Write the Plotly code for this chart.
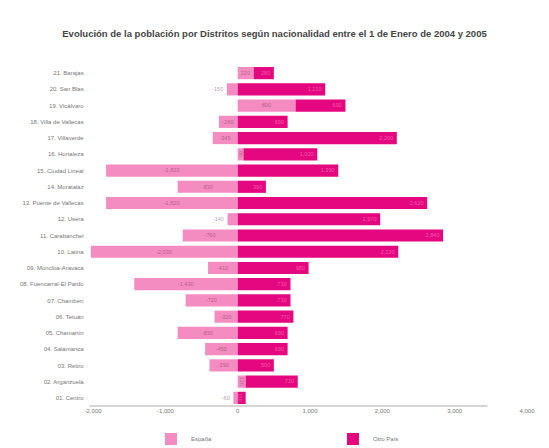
import plotly.graph_objects as go

# Madrid districts, drawn bottom (01) to top (21)
distritos = [
    "01. Centro", "02. Arganzuela", "03. Retiro", "04. Salamanca", "05. Chamartín",
    "06. Tetuán", "07. Chamberí", "08. Fuencarral-El Pardo", "09. Moncloa-Aravaca",
    "10. Latina", "11. Carabanchel", "12. Usera", "13. Puente de Vallecas",
    "14. Moratalaz", "15. Ciudad Lineal", "16. Hortaleza", "17. Villaverde",
    "18. Villa de Vallecas", "19. Vicálvaro", "20. San Blas", "21. Barajas",
]

# Change in population between 1 Jan 2004 and 1 Jan 2005
espana = [-60, 110, -390, -450, -830, -320, -720, -1430, -410, -2030, -760, -140,
          -1820, -830, -1820, 80, -345, -260, 800, -150, 220]
otro_pais = [110, 720, 500, 690, 690, 770, 730, 730, 980, 2220, 2840, 1970,
             2620, 390, 1390, 1020, 2200, 690, 690, 1210, 280]

tick_vals = [-2000, -1000, 0, 1000, 2000, 3000, 4000]
tick_text = ["-2,000", "-1,000", "0", "1,000", "2,000", "3,000", "4,000"]

color_es = "#F48BC1"
color_ot = "#E4077F"


def fmt(v):
    return f"{v:,}"


fig = go.Figure()
fig.add_trace(go.Bar(
    y=distritos, x=espana, name="España", orientation="h",
    marker=dict(color=color_es, line=dict(width=0)),
    text=[fmt(v) for v in espana], textposition="auto",
    textfont=dict(size=6, color="rgba(120,60,90,0.55)"),
    insidetextanchor="middle",
))
fig.add_trace(go.Bar(
    y=distritos, x=otro_pais, name="Otro País", orientation="h",
    marker=dict(color=color_ot, line=dict(width=0)),
    text=[fmt(v) for v in otro_pais], textposition="inside",
    textfont=dict(size=6, color="rgba(255,150,200,0.6)"),
    insidetextanchor="end",
))

fig.update_layout(
    width=549, height=448,
    barmode="relative", bargap=0.25,
    paper_bgcolor="white", plot_bgcolor="white",
    margin=dict(l=88, r=22, t=65, b=42, autoexpand=False),
    font=dict(family="Liberation Sans, Arial, sans-serif", size=6, color="#666666"),
    title=dict(
        text="<b>Evolución de la población por Distritos según nacionalidad entre el 1 de Enero de 2004 y 2005</b>",
        x=0.5, xanchor="center", y=0.925, yanchor="middle",
        font=dict(size=9.5, color="#444444"),
    ),
    xaxis=dict(
        range=[-2070, 4000], tickvals=tick_vals, ticktext=tick_text,
        showgrid=False, zeroline=False, showline=False, ticks="",
        tickfont=dict(size=6, color="#777777"),
    ),
    yaxis=dict(
        showgrid=False, zeroline=False, showline=False, ticks="",
        tickfont=dict(size=6, color="#777777"), ticksuffix="  ",
    ),
    legend=dict(
        orientation="h", xref="container", yref="container",
        x=0.275, xanchor="left", y=0.02, yanchor="middle",
        font=dict(size=6, color="#777777"), entrywidth=137, itemwidth=30,
        traceorder="normal", bgcolor="rgba(0,0,0,0)",
    ),
    uniformtext=dict(minsize=5, mode="show"),
)

# Axis baseline, ending before the last tick label
fig.add_shape(type="line", xref="x", yref="paper", x0=-2050, x1=3450, y0=0, y1=0,
              line=dict(color="#D5D5D5", width=2))

fig.write_html("out.html")
